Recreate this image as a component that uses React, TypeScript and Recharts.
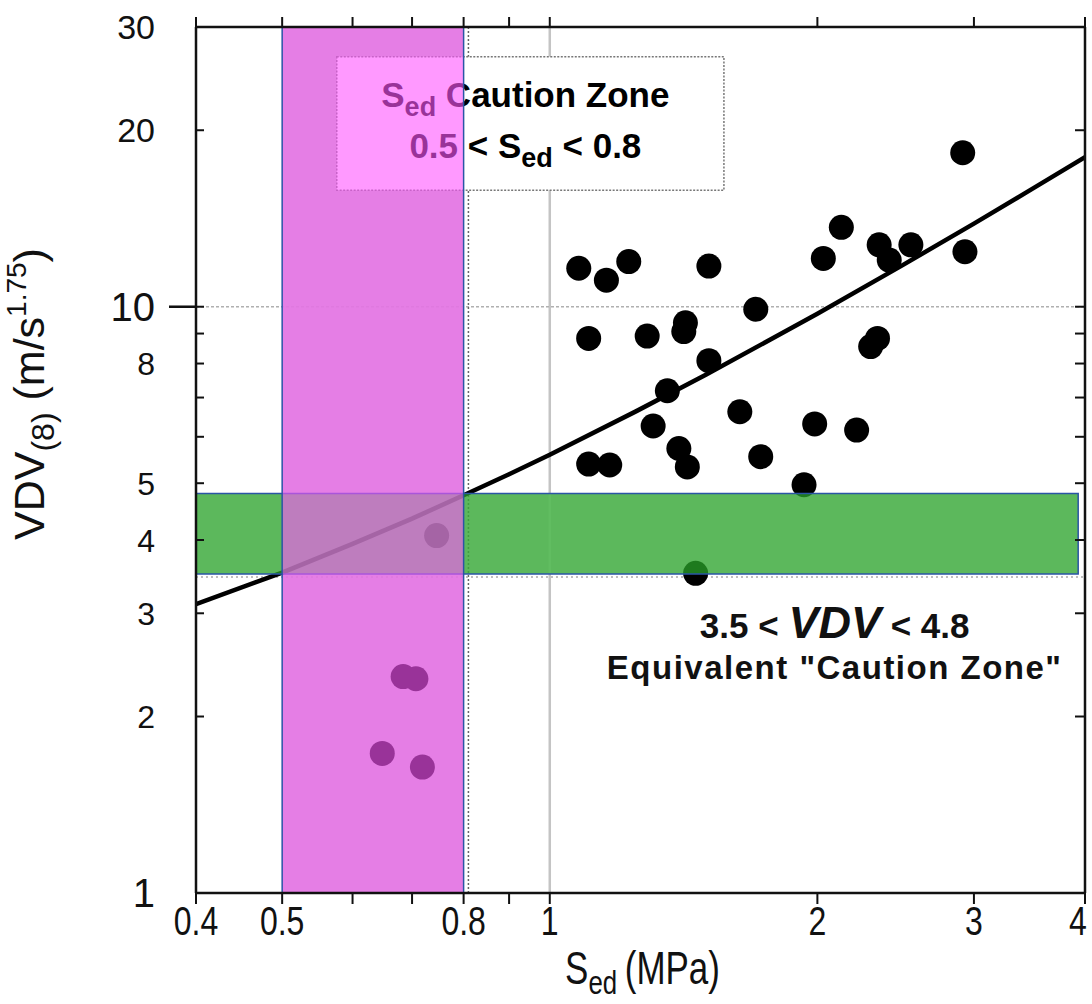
import React from 'react';
import { ComposedChart, XAxis, YAxis, Scatter, Line, ReferenceArea, ReferenceLine } from 'recharts';

// ---- data ----
const sedValues = [
  1.078, 1.158, 1.227, 1.51, 2.031, 2.128, 2.347, 2.409, 2.548, 2.914, 2.931,
  1.106, 1.287, 1.421, 1.415, 1.705, 2.337, 2.296, 1.51, 1.356, 1.636, 1.307,
  1.986, 2.214, 1.397, 1.428, 1.106, 1.168, 1.727, 1.932,
  1.459, 0.746, 0.684, 0.707, 0.648, 0.719,
];
const vdvValues = [
  11.63, 11.1, 11.94, 11.73, 12.09, 13.66, 12.75, 12.01, 12.75, 18.31, 12.41,
  8.83, 8.91, 9.39, 9.07, 9.9, 8.83, 8.55, 8.09, 7.19, 6.62, 6.26,
  6.31, 6.16, 5.73, 5.33, 5.39, 5.37, 5.55, 4.97,
  3.51, 4.07, 2.34, 2.32, 1.73, 1.64,
];
const trendSed = [0.4, 0.5, 0.6, 0.7, 0.8, 0.9, 1, 1.25, 1.5, 2, 2.5, 3, 3.5, 4];
const trendVdv = [3.11, 3.52, 3.94, 4.35, 4.77, 5.18, 5.59, 6.63, 7.66, 9.73, 11.8, 13.86, 15.93, 18.0];

const sedZone = [0.5, 0.8];
const vdvZone = [3.5, 4.8];
const vdvZoneEnd = 3.93;

const xDomain = [0.4, 4];
const yDomain = [1, 30];
const xTicks = [0.4, 0.5, 0.6, 0.7, 0.8, 0.9, 1, 2, 3, 4];
const xTickLabels = [0.4, 0.5, 0.8, 1, 2, 3, 4];
const yTicks = [1, 2, 3, 4, 5, 6, 7, 8, 9, 10, 20, 30];
const yTickLabels = [1, 2, 3, 4, 5, 8, 10, 20, 30];

const points = sedValues.map((x, i) => ({ x, y: vdvValues[i] }));
const trend = trendSed.map((x, i) => ({ x, y: trendVdv[i] }));

const FONT = '"Liberation Sans", Arial, Helvetica, sans-serif';
const BLUE = '#2B55A5';
const Y_MARGIN = 41;

const NoTick = () => <g />;
const NoShape = () => <g />;

const XTick = (props: any) => {
  const { x, y, payload } = props;
  const v = payload.value;
  if (!xTickLabels.includes(v)) return <g />;
  const shift = v === xDomain[1] ? -7 : 0;
  return (
    <g transform={`translate(${x + shift},${y + 31})`}>
      <text textAnchor="middle" transform="scale(0.8,1)" fontSize={40} fontFamily={FONT} fill="#111">
        {String(v)}
      </text>
    </g>
  );
};

const YTick = (props: any) => {
  const { x, y, payload } = props;
  const v = payload.value;
  const ax = x + Y_MARGIN;
  const inner = <line x1={ax} x2={ax + 8} y1={y} y2={y} stroke="#111" strokeWidth={2} />;
  if (!yTickLabels.includes(v)) return <g>{inner}</g>;
  const fs = v === 1 || v === 10 ? 40 : v >= 20 ? 34 : 32;
  return (
    <g>
      {inner}
      {v === 10 ? <line x1={ax - 27} x2={ax} y1={y} y2={y} stroke="#111" strokeWidth={2.5} /> : null}
      <text x={x} y={y} dy="0.36em" textAnchor="end" fontSize={fs} fontFamily={FONT} fill="#111">
        {String(v)}
      </text>
    </g>
  );
};

const XTitle = (props: any) => {
  const vb = props.viewBox || { x: 196, y: 893, width: 888, height: 111 };
  const cx = vb.x + vb.width / 2 + 2;
  const by = vb.y + 91;
  return (
    <g transform={`translate(${cx},${by}) scale(0.76,1)`}>
      <text textAnchor="middle" fontSize={46} fontFamily={FONT} fill="#111">
        S<tspan fontSize={34} dy={10}>ed</tspan>
        <tspan dy={-10} dx={10}>(MPa)</tspan>
      </text>
    </g>
  );
};

const YTitle = (props: any) => {
  const vb = props.viewBox || { x: 0, y: 27, width: 196, height: 866 };
  const cx = vb.x + 44;
  const cy = vb.y + vb.height / 2 - 66;
  return (
    <g transform={`translate(${cx},${cy}) rotate(-90)`}>
      <text textAnchor="middle" fontSize={43} fontFamily={FONT} fill="#111">
        VDV<tspan fontSize={32} dy={10}>(8)</tspan>
        <tspan dy={-10}>{' (m/s'}</tspan>
        <tspan fontSize={28} dy={-18}>1.75</tspan>
        <tspan dy={18}>)</tspan>
      </text>
    </g>
  );
};

const ZoneBox = (props: any) => {
  const { x, y, width, height } = props;
  const cx = x + width / 2 - 5;
  return (
    <g>
      <rect x={x} y={y} width={width} height={height} fill="#fff" stroke="#777" strokeWidth={1.5} strokeDasharray="2 1.5" />
      <text x={cx} y={y + 50} textAnchor="middle" fontFamily={FONT} fontWeight="bold" fontSize={35} fill="#000">
        S<tspan fontSize={27} dy={9}>ed</tspan>
        <tspan dy={-9}> Caution Zone</tspan>
      </text>
      <text x={cx} y={y + 101} textAnchor="middle" fontFamily={FONT} fontWeight="bold" fontSize={35} fill="#000">
        {`${sedZone[0]} < S`}
        <tspan fontSize={27} dy={9}>ed</tspan>
        <tspan dy={-9}>{` < ${sedZone[1]}`}</tspan>
      </text>
    </g>
  );
};

const VdvNote = (props: any) => {
  const { x, y, width } = props;
  const cx = x + width / 2;
  return (
    <g>
      <text x={cx} y={y + 41} textAnchor="middle" fontFamily={FONT} fontWeight="bold" fontSize={35} fill="#111">
        {`${vdvZone[0]} < `}
        <tspan fontStyle="italic" fontSize={45}>VDV</tspan>
        {` < ${vdvZone[1]}`}
      </text>
      <text x={cx} y={y + 82} textAnchor="middle" fontFamily={FONT} fontWeight="bold" fontSize={33} letterSpacing={1.5} fill="#111">
        Equivalent "Caution Zone"
      </text>
    </g>
  );
};

const Dot = (p: any) => <circle cx={p.cx} cy={p.cy} r={12.5} fill="#000" />;

export default function App() {
  return (
    <div style={{ position: 'absolute', left: 0, top: 0, width: 1092, height: 1004, background: '#fff' }}>
      <ComposedChart width={1092} height={1004} margin={{ top: 0, right: 7, bottom: 0, left: 0 }}>
        <XAxis
          xAxisId="b" type="number" dataKey="x" scale="log" domain={xDomain} allowDataOverflow
          ticks={xTicks} interval={0} tickSize={11} tickMargin={0} height={111}
          tick={XTick} tickLine={{ stroke: '#111', strokeWidth: 2 }}
          axisLine={{ stroke: '#111', strokeWidth: 2.5 }} label={{ content: XTitle }} zIndex={800}
        />
        <XAxis
          xAxisId="t" orientation="top" type="number" dataKey="x" scale="log" domain={xDomain} allowDataOverflow
          ticks={xTicks} interval={0} tickSize={10} height={27} tick={NoTick}
          tickLine={{ stroke: '#111', strokeWidth: 2 }} axisLine={{ stroke: '#111', strokeWidth: 2.5 }} zIndex={800}
        />
        <YAxis
          yAxisId="l" type="number" dataKey="y" scale="log" domain={yDomain} allowDataOverflow
          ticks={yTicks} interval={0} width={196} tickSize={0} tickMargin={Y_MARGIN} tickLine={false}
          tick={YTick} axisLine={{ stroke: '#111', strokeWidth: 2.5 }} label={{ content: YTitle }} zIndex={800}
        />
        <YAxis
          yAxisId="r" orientation="right" mirror type="number" dataKey="y" scale="log" domain={yDomain} allowDataOverflow
          ticks={yTicks} interval={0} width={1} tickSize={10} tick={NoTick}
          tickLine={{ stroke: '#111', strokeWidth: 2 }} axisLine={{ stroke: '#111', strokeWidth: 2.5 }} zIndex={800}
        />

        {/* band underlays */}
        <ReferenceArea xAxisId="b" yAxisId="l" x1={sedZone[0]} x2={sedZone[1]} y1={yDomain[0]} y2={yDomain[1]}
          fill="#BEBCBE" fillOpacity={1} stroke="none" zIndex={100} />
        <ReferenceArea xAxisId="b" yAxisId="l" x1={xDomain[0]} x2={vdvZoneEnd} y1={vdvZone[0]} y2={vdvZone[1]}
          fill="#B6B6B6" fillOpacity={1} stroke="none" zIndex={101} />

        {/* grid-like lines */}
        <ReferenceLine xAxisId="b" yAxisId="l" x={1} stroke="#c4c4c4" strokeWidth={2.5} zIndex={110} />
        <ReferenceLine xAxisId="b" yAxisId="l" y={10} stroke="#b0b0b0" strokeWidth={1.5} strokeDasharray="3 2" zIndex={111} />
        <ReferenceLine xAxisId="b" yAxisId="l" x={0.81} stroke="#666" strokeWidth={1.5} strokeDasharray="2 2" zIndex={112} />
        <ReferenceLine xAxisId="b" yAxisId="l" y={3.46} stroke="#aaa" strokeWidth={1.5} strokeDasharray="2 3" zIndex={113} />

        {/* caution zone legend box */}
        <ReferenceArea xAxisId="b" yAxisId="l" x1={0.576} x2={1.57} y1={15.8} y2={26.7}
          shape={ZoneBox} zIndex={120} />

        <Line xAxisId="b" yAxisId="l" data={trend} dataKey="y" type="linear" stroke="#000" strokeWidth={4.5}
          dot={false} activeDot={false} isAnimationActive={false} zIndex={400} />
        <Scatter xAxisId="b" yAxisId="l" data={points} dataKey="y" shape={Dot} isAnimationActive={false} zIndex={600} />
        {/* invisible series so the mirrored top / right axes are bound to data */}
        <Scatter xAxisId="t" yAxisId="r" data={points} dataKey="y" shape={NoShape} isAnimationActive={false} zIndex={600} />

        {/* band overlays */}
        <ReferenceArea xAxisId="b" yAxisId="l" x1={xDomain[0]} x2={vdvZoneEnd} y1={vdvZone[0]} y2={vdvZone[1]}
          fill="#2DB92D" fillOpacity={0.66} stroke={BLUE} strokeWidth={1.5} zIndex={700} />
        <ReferenceArea xAxisId="b" yAxisId="l" x1={sedZone[0]} x2={sedZone[1]} y1={yDomain[0]} y2={yDomain[1]}
          fill="#FF55FF" fillOpacity={0.6} stroke={BLUE} strokeWidth={1.5} zIndex={710} />

        <ReferenceArea xAxisId="b" yAxisId="l" x1={1.25} x2={3.5} y1={2.2} y2={3.2}
          shape={VdvNote} zIndex={720} />
      </ComposedChart>
    </div>
  );
}
